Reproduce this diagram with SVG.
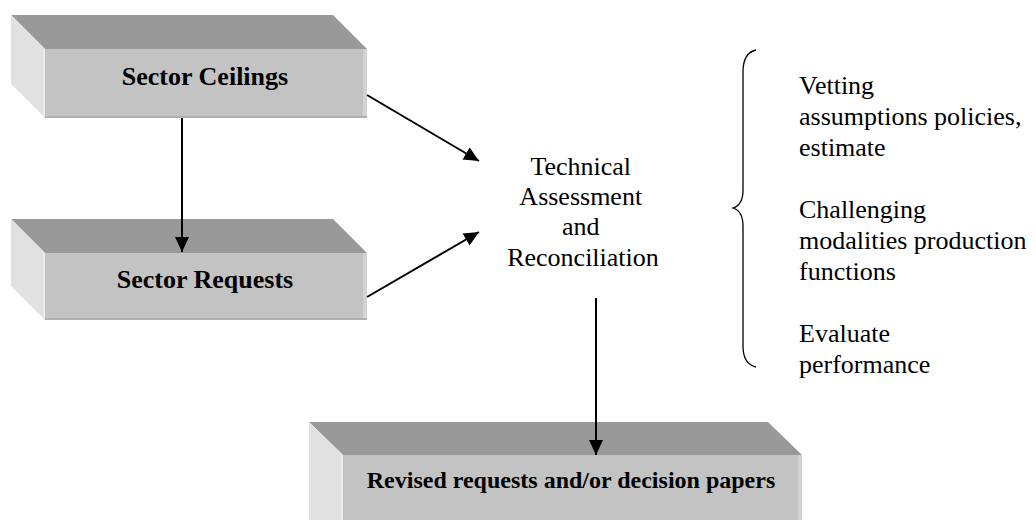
<svg xmlns="http://www.w3.org/2000/svg" width="1036" height="520" viewBox="0 0 1036 520">
  <style>
    .top { fill: #999999; }
    .side { fill: #e1e1e1; }
    .front { fill: #c3c3c3; }
    .edge-r { fill: #d3d3d3; }
    .edge-l { fill: #ebebeb; }
    .edge-b { fill: #afafaf; }
    text { font-family: 'Liberation Serif', 'DejaVu Serif', serif; }
    .box-label { font-weight: bold; fill: #000; text-anchor: middle; }
    .plain { font-size: 26px; fill: #000; }
    .conn { stroke: #000; stroke-width: 2; fill: none; marker-end: url(#arrow); }
  </style>
  <defs>
    <marker id="arrow" markerUnits="userSpaceOnUse" markerWidth="16" markerHeight="16" refX="15" refY="7" orient="auto">
      <path d="M0,0 L15,7 L0,14 Z" fill="#000"/>
    </marker>
  </defs>
  <rect width="1036" height="520" fill="#ffffff"/>

  <!-- Sector Ceilings block -->
  <g id="sector-ceilings">
    <polygon class="top" points="11,15 333,15 367,49 45,49"/>
    <polygon class="side" points="11,15 45,49 45,118 11,84"/>
    <rect class="front" x="45" y="49" width="322" height="69"/>
    <rect class="edge-l" x="43" y="49" width="2" height="69"/>
    <rect class="edge-r" x="363" y="49" width="4" height="69"/>
    <rect class="edge-b" x="45" y="116" width="322" height="2"/>
    <text class="box-label" x="205" y="85" font-size="26" font-family="Liberation Serif, serif">Sector Ceilings</text>
  </g>

  <!-- Sector Requests block -->
  <g id="sector-requests">
    <polygon class="top" points="11,219 333,219 367,253 45,253"/>
    <polygon class="side" points="11,219 45,253 45,320 11,286"/>
    <rect class="front" x="45" y="253" width="322" height="67"/>
    <rect class="edge-l" x="43" y="253" width="2" height="67"/>
    <rect class="edge-r" x="363" y="253" width="4" height="67"/>
    <rect class="edge-b" x="45" y="318" width="322" height="2"/>
    <text class="box-label" x="205" y="288" font-size="26" font-family="Liberation Serif, serif">Sector Requests</text>
  </g>

  <!-- Revised requests block (runs off the bottom edge) -->
  <g id="revised-requests">
    <polygon class="top" points="309,422 768,422 802,455 343,455"/>
    <polygon class="side" points="309,422 343,455 343,530 309,530"/>
    <rect class="front" x="343" y="455" width="459" height="75"/>
    <rect class="edge-l" x="341" y="455" width="2" height="75"/>
    <rect class="edge-r" x="798" y="455" width="4" height="75"/>
    <text class="box-label" x="571" y="488" font-size="24" font-family="Liberation Serif, serif">Revised requests and/or decision papers</text>
  </g>

  <!-- Central process label -->
  <g id="technical-assessment">
    <text class="plain" text-anchor="middle" font-family="Liberation Serif, serif">
      <tspan x="584" y="175">Technical</tspan>
      <tspan x="584" y="205">Assessment</tspan>
      <tspan x="584" y="235">and</tspan>
      <tspan x="583" y="266">Reconciliation</tspan>
    </text>
  </g>

  <!-- Brace and activity list -->
  <g id="activities">
    <path d="M756,50 Q743,53 743,72 L743,190 Q743,205 733,208 Q743,211 743,226 L743,346 Q743,364 756,367" stroke="#000" stroke-width="1.3" fill="none"/>
    <text class="plain" font-family="Liberation Serif, serif">
      <tspan x="799" y="94">Vetting</tspan>
      <tspan x="799" y="125">assumptions policies,</tspan>
      <tspan x="799" y="156">estimate</tspan>
      <tspan x="799" y="218">Challenging</tspan>
      <tspan x="799" y="249">modalities production</tspan>
      <tspan x="799" y="280">functions</tspan>
      <tspan x="799" y="342">Evaluate</tspan>
      <tspan x="799" y="373">performance</tspan>
    </text>
  </g>

  <!-- Connectors -->
  <g id="connectors">
    <line class="conn" x1="182" y1="118" x2="182" y2="252"/>
    <line class="conn" x1="367" y1="95" x2="479" y2="161"/>
    <line class="conn" x1="367" y1="297" x2="479" y2="232"/>
    <line class="conn" x1="596" y1="298" x2="596" y2="455"/>
  </g>
</svg>
